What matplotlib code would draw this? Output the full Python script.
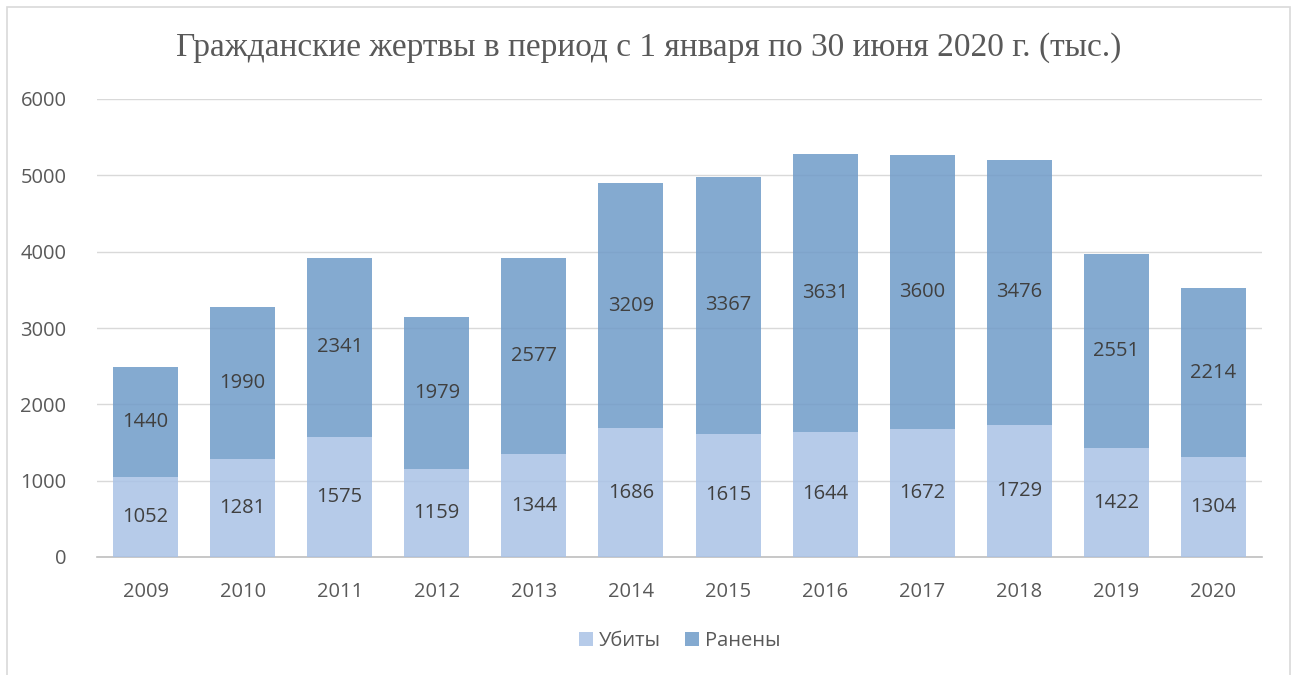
import numpy as np
import matplotlib.pyplot as plt
from matplotlib.patches import Rectangle

# Данные
years = ["2009", "2010", "2011", "2012", "2013", "2014", "2015", "2016", "2017", "2018", "2019", "2020"]
ubity = [1052, 1281, 1575, 1159, 1344, 1686, 1615, 1644, 1672, 1729, 1422, 1304]
raneny = [1440, 1990, 2341, 1979, 2577, 3209, 3367, 3631, 3600, 3476, 2551, 2214]

plt.rcParams['font.family'] = ['Open Sans', 'DejaVu Sans']

fig = plt.figure(figsize=(12.98, 6.75), dpi=100)
fig.patches.append(Rectangle((7 / 1298, -0.01), 1283 / 1298, 1 - 7 / 675 + 0.01,
                             transform=fig.transFigure, fill=False,
                             edgecolor="#d9d9d9", linewidth=1.2))
ax = fig.add_axes([97 / 1298, 1 - 557 / 675, 1165 / 1298, 458 / 675])

x = np.arange(len(years))
c1 = "#a9c2e6"
c2 = "#6f9bc8"
b1 = ax.bar(x, ubity, width=0.67, color=c1, alpha=0.85, zorder=3)
b2 = ax.bar(x, raneny, width=0.67, bottom=ubity, color=c2, alpha=0.85, zorder=3)

for i in range(len(years)):
    ax.text(x[i], ubity[i] / 2, str(ubity[i]), ha="center", va="center",
            fontsize=14.5, color="#404040", zorder=4)
    ax.text(x[i], ubity[i] + raneny[i] / 2, str(raneny[i]), ha="center", va="center",
            fontsize=14.5, color="#404040", zorder=4)

ax.set_xlim(-0.5, len(years) - 0.5)
ax.set_ylim(0, 6000)
ax.set_yticks(range(0, 6001, 1000))
ax.set_xticks(x)
ax.set_xticklabels(years)
ax.yaxis.grid(True, color="#d9d9d9", linewidth=1, zorder=0)
ax.set_axisbelow(True)
for s in ["top", "right", "left"]:
    ax.spines[s].set_visible(False)
ax.spines["bottom"].set_color("#bfbfbf")
ax.spines["bottom"].set_linewidth(1.2)
ax.tick_params(axis="both", length=0, labelsize=14.5, labelcolor="#595959")
ax.tick_params(axis="x", pad=18)
ax.tick_params(axis="y", pad=22)

fig.text(0.5, 1 - 48 / 675, "Гражданские жертвы в период с 1 января по 30 июня 2020 г. (тыс.)",
         ha="center", va="center", fontsize=24, color="#595959",
         family=["Liberation Serif", "DejaVu Serif"])

ax.legend([b1, b2], ["Убиты", "Ранены"], loc="center", bbox_to_anchor=(0.5, (557 - 641) / 458),
          ncol=2, frameon=False, fontsize=14.5, handlelength=0.7, handleheight=0.7,
          handletextpad=0.3, columnspacing=1.2, labelcolor="#595959")

fig.savefig("out.png", dpi=100)
